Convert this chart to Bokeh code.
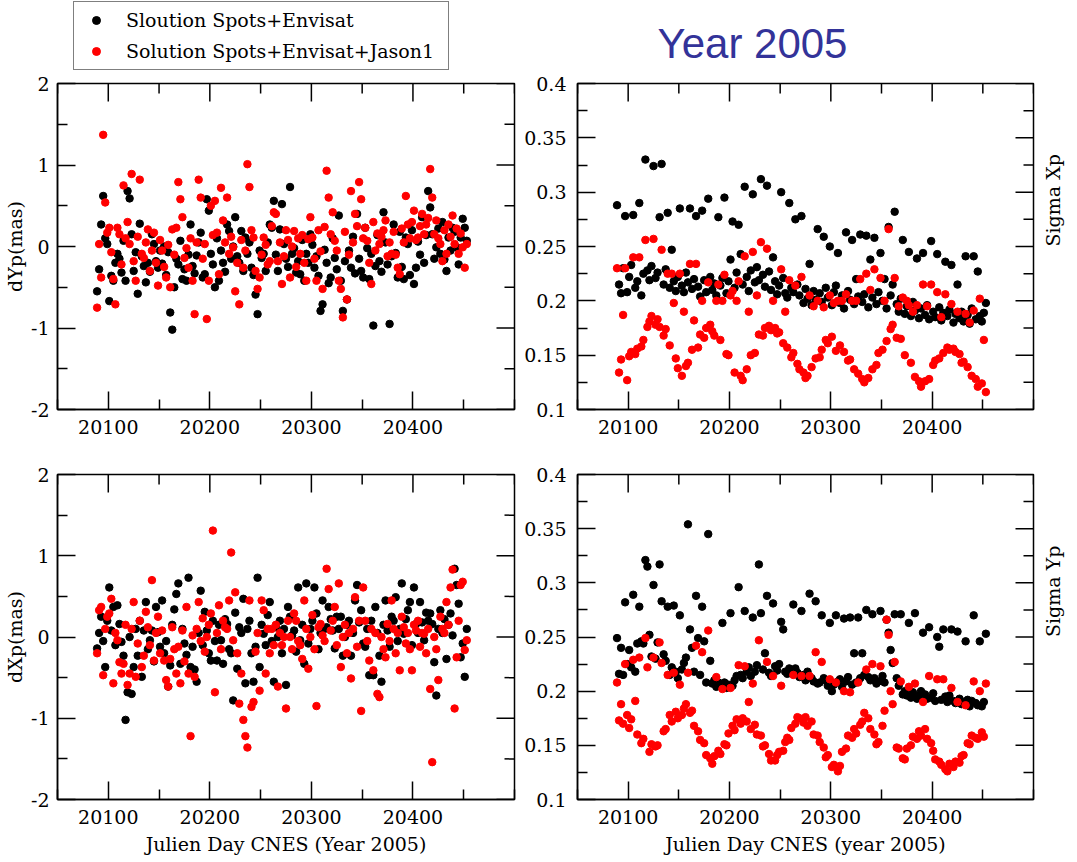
import math
from bokeh.plotting import figure
from bokeh.layouts import column, row
from bokeh.models import (Range1d, LinearAxis, FixedTicker, CustomJSTickFormatter,
                          Legend, LegendItem, ColumnDataSource, Label)
from bokeh.embed import file_html
from bokeh.resources import INLINE

# ---------------- data (CNES julian days of 2005, every second day) ----------------
days = list(range(20089, 20454, 2))

# dYp (mas)
dyp_env = [-.55, -.28, .27, .62, .10, .03, -.67, -.36, -.42, -.20,
           -.09, -.15, -.32, .07, -.42, .68, .59, .15, -.30, -.07,
           -.58, .28, -.12, -.24, -.44, -.20, -.31, .15, .03, -.18,
           -.26, -.05, -.21, .00, -.35, -.07, -.81, -1.02, -.50, -.15,
           -.22, .07, -.40, -.28, -.42, -.10, .27, -.24, -.33, -.11,
           .05, .17, -.38, -.34, .58, .44, -.09, -.22, -.50, .10,
           -.42, -.05, -.20, -.31, .27, .19, -.15, .00, .36, -.12,
           -.20, .19, -.30, .11, -.09, .05, -.26, -.35, -.59, -.83,
           -.05, -.14, -.09, -.30, .05, .27, .23, .56, -.10, -.30,
           .21, .52, .03, -.15, -.25, .73, -.09, -.02, -.32, -.18,
           -.34, .08, -.42, -.09, -.20, .15, .02, -.26, -.12, -.36,
           -.79, -.71, -.04, -.20, -.45, -.38, .10, -.14, -.28, .38,
           -.42, -.79, -.18, -.65, -.05, -.26, .12, -.33, .40, -.15,
           -.30, -.38, .23, -.02, -.40, -.09, -.97, -.24, .14, -.18,
           -.31, .42, .05, -.22, -.95, -.12, .27, -.08, -.38, .18,
           -.25, -.40, .11, .03, -.35, .20, -.46, -.26, .06, -.10,
           .36, -.20, .14, .68, .48, .15, -.15, -.01, .22, -.09,
           .30, -.16, -.30, .11, -.05, .23, .18, -.01, -.22, .11,
           .34, .23, .07]
dyp_jas = [-.75, .03, -.38, 1.37, .54, .17, .23, -.07, -.40, -.71,
           .23, .15, -.22, .75, .10, .30, .03, .89, -.18, -.42,
           .12, .82, -.09, -.14, .05, .21, -.30, -.05, .17, -.20,
           -.48, .08, -.05, -.25, -.38, .02, -.50, .21, -.10, .23,
           .79, .58, .36, -.14, -.02, -.26, .10, -.42, -.83, .05,
           .82, .60, -.15, .03, -.89, -.42, .50, .14, .56, .17,
           -.34, .72, .32, .05, .60, -.09, .12, -.01, -.55, -.20,
           -.71, .08, -.26, -.05, 1.01, .73, .20, .11, -.30, -.52,
           -.38, -.10, .11, .02, -.22, -.18, .25, .42, .40, -.18,
           .05, -.46, -.12, .20, .08, -.38, .00, .19, -.25, .10,
           -.09, .14, -.20, -.42, .09, .36, .11, -.15, -.42, .20,
           -.06, -.52, .24, .93, .60, .15, .42, .07, -.05, -.42,
           -.52, -.87, .18, -.65, -.10, .68, .05, .40, .25, .79,
           .58, .10, .23, .07, -.20, -.46, .30, -.05, .16, .03,
           .12, .20, .32, -.12, .05, -.09, .18, -.10, -.26, -.34,
           .22, .05, .62, .27, .10, .30, .44, .08, .11, .25,
           .40, .15, .27, .35, .95, .60, .15, .32, .10, .03,
           -.18, .20, -.09, .27, .12, .38, .03, .22, -.09, .16,
           -.01, -.26, .03]

# Sigma Xp
sxp_env = [.288, .215, .207, .230, .278, .208, .222, .233, .279, .212,
           .218, .290, .205, .225, .330, .228, .219, .232, .324, .221,
           .226, .277, .326, .215, .229, .281, .212, .247, .218, .209,
           .222, .285, .214, .208, .226, .217, .285, .211, .220, .278,
           .213, .204, .283, .219, .208, .294, .222, .210, .216, .205,
           .277, .214, .221, .295, .207, .218, .238, .273, .212, .226,
           .270, .243, .215, .305, .222, .209, .228, .298, .217, .231,
           .219, .312, .224, .213, .306, .227, .210, .240, .218, .206,
           .214, .300, .221, .207, .203, .290, .212, .208, .275, .215,
           .205, .278, .198, .211, .202, .234, .196, .209, .201, .266,
           .207, .199, .259, .212, .203, .250, .196, .208, .214, .244,
           .198, .205, .193, .263, .209, .201, .256, .197, .220, .204,
           .261, .199, .206, .260, .194, .238, .203, .258, .197, .208,
           .244, .200, .220, .193, .268, .205, .215, .282, .197, .190,
           .202, .256, .188, .195, .245, .186, .199, .191, .239, .184,
           .193, .244, .187, .196, .183, .255, .190, .185, .243, .194,
           .182, .189, .236, .186, .192, .233, .180, .188, .215, .184,
           .190, .181, .241, .187, .179, .193, .241, .183, .227, .186,
           .181, .189, .198]
sxp_jas = [.230, .134, .146, .187, .230, .127, .149, .153, .240, .151,
           .156, .240, .158, .164, .256, .176, .181, .186, .257, .178,
           .183, .176, .247, .168, .174, .225, .159, .225, .198, .147,
           .138, .225, .131, .190, .140, .143, .234, .155, .182, .234,
           .157, .169, .200, .166, .175, .217, .178, .172, .168, .200,
           .215, .164, .200, .224, .151, .150, .205, .209, .134, .200,
           .218, .131, .127, .241, .137, .190, .150, .245, .152, .205,
           .169, .254, .168, .175, .248, .177, .173, .200, .175, .170,
           .171, .229, .161, .190, .157, .219, .148, .152, .214, .142,
           .137, .222, .134, .129, .131, .205, .139, .195, .147, .200,
           .148, .155, .194, .164, .161, .205, .167, .198, .154, .200,
           .159, .200, .153, .206, .145, .146, .200, .137, .200, .133,
           .220, .128, .125, .225, .129, .210, .137, .229, .141, .152,
           .221, .155, .200, .163, .266, .174, .178, .221, .166, .195,
           .165, .203, .150, .200, .196, .143, .190, .130, .196, .126,
           .121, .215, .126, .195, .128, .215, .141, .145, .208, .147,
           .185, .152, .206, .157, .155, .197, .156, .153, .190, .151,
           .143, .144, .188, .139, .180, .131, .191, .128, .121, .202,
           .124, .164, .116]

# dXp (mas)
dxp_env = [-.14, .05, .25, -.05, -.37, .20, .61, .08, .37, -.10,
           .39, .16, -.06, -.23, -1.02, -.68, .00, -.70, -.37, .10,
           -.23, .20, -.49, .08, .43, -.15, -.04, .08, -.30, .37,
           .06, -.12, .45, -.20, -.05, -.61, -.35, .15, .34, .53,
           .66, -.33, .10, -.08, -.22, .73, -.37, -.12, -.40, -.55,
           .05, .57, -.10, .31, .08, -.20, -.29, .20, -.05, -.29,
           .15, -.04, -.33, .22, .16, -.15, -.20, -.78, .30, -.39,
           .12, .05, .47, -.57, .10, .20, -.20, -.55, -.12, .73,
           -.37, .15, .04, -.10, .27, .43, -.05, -.55, .12, .00,
           .20, -.20, .10, -.59, .37, .25, .02, .08, -.18, .61,
           -.04, .15, -.33, .66, -.08, .10, .20, .61, .29, -.15,
           .05, .45, .10, .12, .37, .22, .08, -.14, .25, .10,
           .25, -.23, .00, .15, .20, -.23, .05, .45, .64, .18,
           .33, -.08, -.12, .10, -.47, .20, -.47, .37, .05, -.23,
           -.55, .15, .45, .08, -.12, .25, .20, .49, -.05, .10,
           .66, .04, .22, .33, .43, -.10, .61, .16, .05, .43,
           .18, -.04, .30, .20, .29, .16, -.31, -.72, .10, .33,
           .05, .22, -.27, .15, .29, .02, .84, .64, .41, -.25,
           -.08, -.49, .10]
dxp_jas = [-.20, .33, .37, -.47, .10, .25, .29, .47, -.57, .05,
           -.04, -.31, -.45, -.33, .15, -.59, -.45, .10, .43, -.49,
           -.08, .20, -.37, -.23, .31, .12, -.10, .70, -.29, .05,
           .25, -.20, .08, -.29, -.53, -.61, -.27, .12, -.15, -.45,
           -.12, -.57, .08, -.30, .37, -.45, -1.22, .02, -.49, .10,
           .43, -.05, .23, -.18, .00, .15, .29, 1.31, -.68, .05,
           .39, -.15, .20, .12, .10, .45, 1.04, -.04, .55, -.20,
           -.82, -.45, -1.02, -1.22, -1.36, .45, -.86, -.80, -.18, .05,
           -.66, .45, .33, -.45, .10, -.20, .10, -.10, .15, -.61,
           .05, -.10, .00, -.88, .20, .00, -.15, .29, .20, -.05,
           -.10, -.27, .45, .10, -.39, .00, .27, -.15, -.85, .12,
           .16, .02, -.05, .84, .59, .08, .20, .37, -.10, .66,
           -.37, .00, .15, -.20, .05, -.51, .10, .49, -.12, .20,
           -.91, .61, .20, -.05, -.29, .10, -.41, .05, -.70, -.74,
           .00, -.15, -.25, .16, -.05, .45, .10, -.20, .05, -.41,
           .25, .12, -.08, .05, -.15, -.41, .15, .08, .20, -.12,
           .05, .04, -.20, .10, -.64, -1.54, .00, -.15, -.53, .25,
           .10, .05, .43, .15, .61, .83, -.88, -.25, .20, .64,
           .68, -.16, -.04]

# Sigma Yp
syp_env = [.249, .216, .240, .215, .282, .225, .238, .222, .289, .218,
           .244, .278, .246, .244, .321, .315, .252, .232, .298, .230,
           .245, .317, .283, .234, .228, .278, .215, .222, .279, .218,
           .212, .270, .220, .226, .231, .354, .257, .240, .218, .288,
           .249, .215, .278, .246, .208, .345, .228, .207, .210, .204,
           .208, .206, .263, .208, .203, .206, .272, .205, .210, .214,
           .296, .215, .212, .274, .218, .222, .214, .268, .218, .224,
           .317, .272, .220, .235, .288, .217, .214, .281, .223, .219,
           .225, .264, .257, .218, .216, .221, .219, .280, .221, .217,
           .213, .274, .215, .210, .218, .290, .212, .209, .283, .207,
           .208, .270, .212, .210, .205, .263, .200, .206, .270, .209,
           .211, .204, .267, .209, .213, .268, .206, .235, .208, .268,
           .212, .235, .215, .275, .213, .210, .271, .212, .207, .209,
           .274, .214, .208, .266, .254, .238, .226, .271, .212, .205,
           .271, .197, .200, .196, .263, .194, .199, .272, .193, .196,
           .200, .254, .197, .193, .259, .194, .198, .191, .250, .241,
           .192, .257, .195, .190, .196, .257, .191, .189, .255, .193,
           .188, .190, .246, .192, .186, .191, .270, .189, .187, .246,
           .186, .190, .253]
syp_jas = [.208, .173, .188, .170, .225, .178, .166, .174, .229, .191,
           .160, .231, .152, .156, .249, .222, .144, .151, .231, .149,
           .150, .245, .226, .163, .165, .215, .178, .172, .217, .181,
           .175, .206, .178, .184, .188, .217, .180, .182, .168, .242,
           .163, .155, .236, .152, .141, .256, .138, .133, .140, .213,
           .145, .142, .202, .151, .150, .161, .203, .168, .164, .174,
           .224, .170, .175, .223, .172, .190, .165, .207, .169, .160,
           .247, .159, .149, .150, .227, .142, .136, .214, .136, .141,
           .144, .205, .145, .153, .157, .155, .166, .215, .170, .176,
           .175, .214, .171, .176, .168, .214, .172, .160, .236, .159,
           .153, .227, .148, .139, .141, .211, .130, .132, .208, .126,
           .131, .144, .200, .147, .159, .199, .157, .165, .161, .208,
           .169, .172, .180, .220, .175, .165, .225, .160, .151, .153,
           .223, .168, .182, .266, .252, .200, .188, .227, .148, .147,
           .209, .138, .137, .147, .204, .150, .158, .207, .156, .163,
           .159, .190, .165, .156, .214, .152, .145, .137, .211, .135,
           .132, .211, .128, .126, .133, .203, .130, .135, .190, .134,
           .140, .141, .187, .152, .151, .159, .209, .157, .156, .200,
           .162, .158, .207]

for _a in (dyp_env, dyp_jas, sxp_env, sxp_jas, dxp_env, dxp_jas, syp_env, syp_jas):
    assert len(_a) == len(days), len(_a)

x_major = [20100, 20200, 20300, 20400]
x_minor = [20050, 20150, 20250, 20350, 20450, 20500]
mas_major = [-2, -1, 0, 1, 2]
mas_minor = [-1.5, -0.5, 0.5, 1.5]
sig_major = [0.1, 0.15, 0.2, 0.25, 0.3, 0.35, 0.4]
sig_minor = [0.125, 0.175, 0.225, 0.275, 0.325, 0.375]

label_env = "Sloution Spots+Envisat"
label_jas = "Solution Spots+Envisat+Jason1"
title_text = "Year 2005"
xlabel_left = "Julien Day CNES (Year 2005)"
xlabel_right = "Julien Day CNES (year 2005)"

FONT = "DejaVu Serif"
FS = "19px"
X0, X1 = 20050, 20500
MSIZE = 7.5


def style_axis(ax):
    ax.axis_line_color = "black"
    ax.axis_line_width = 1.5
    ax.major_tick_in = 18
    ax.major_tick_out = 0
    ax.minor_tick_in = 10
    ax.minor_tick_out = 0
    ax.major_tick_line_color = "black"
    ax.major_tick_line_width = 1.5
    ax.minor_tick_line_color = "black"
    ax.minor_tick_line_width = 1.5
    ax.major_label_text_font = FONT
    ax.major_label_text_font_size = FS
    ax.major_label_text_color = "black"
    ax.axis_label_text_font = FONT
    ax.axis_label_text_font_size = FS
    ax.axis_label_text_font_style = "normal"
    ax.axis_label_text_color = "black"


def make_panel(w, h, bl, br, bt, bb, yr, ymaj, ymin, env, jas, sig=False,
               xlabel=None, ylabel=None, rlabel=None, ystandoff=8):
    p = figure(width=w, height=h, x_range=Range1d(X0, X1), y_range=Range1d(*yr),
               output_backend="svg", toolbar_location=None, tools="",
               x_axis_location=None, y_axis_location=None,
               min_border_left=bl, min_border_right=br,
               min_border_top=bt, min_border_bottom=bb)
    p.xgrid.grid_line_color = None
    p.ygrid.grid_line_color = None
    p.outline_line_color = "black"
    p.outline_line_width = 1.5
    p.background_fill_color = "white"
    p.border_fill_color = "white"

    xt = FixedTicker(ticks=x_major, minor_ticks=x_minor)
    yt = FixedTicker(ticks=ymaj, minor_ticks=ymin)

    bottom = LinearAxis(ticker=xt)
    style_axis(bottom)
    bottom.major_label_standoff = 10
    if xlabel:
        bottom.axis_label = xlabel
        bottom.axis_label_standoff = 6
    p.add_layout(bottom, "below")

    left = LinearAxis(ticker=yt)
    style_axis(left)
    left.major_label_standoff = ystandoff
    if sig:
        left.formatter = CustomJSTickFormatter(
            code="return (Math.round(tick*1000)/1000).toString();")
    else:
        left.formatter = CustomJSTickFormatter(code="return tick.toString();")
    if ylabel:
        left.axis_label = ylabel
        left.axis_label_standoff = 2
    p.add_layout(left, "left")

    if rlabel:
        rax = LinearAxis(ticker=FixedTicker(ticks=[]), axis_label=rlabel)
        style_axis(rax)
        rax.axis_line_color = None
        rax.major_tick_line_color = None
        rax.minor_tick_line_color = None
        rax.axis_label_standoff = 19
        try:
            rax.axis_label_orientation = math.pi / 2
        except Exception:
            pass
        p.add_layout(rax, "right")

    # mirrored ticks on the top and right edges (half of each dash is clipped by the frame)
    ytop, xright = yr[1], X1
    tick_kw = dict(marker="dash", line_color="black", line_width=1.5)
    p.scatter(x=x_major, y=[ytop] * len(x_major), angle=math.pi / 2, size=36, **tick_kw)
    p.scatter(x=x_minor, y=[ytop] * len(x_minor), angle=math.pi / 2, size=20, **tick_kw)
    p.scatter(x=[xright] * len(ymaj), y=ymaj, size=36, **tick_kw)
    p.scatter(x=[xright] * len(ymin), y=ymin, size=20, **tick_kw)

    src = ColumnDataSource(dict(day=days, env=env, jas=jas))
    p.scatter("day", "env", source=src, marker="circle", size=MSIZE,
              fill_color="black", line_color="black")
    p.scatter("day", "jas", source=src, marker="circle", size=MSIZE,
              fill_color="red", line_color="red")
    return p


HH = 72            # header strip (legend + title)
H1, H2 = 380, 410  # top / bottom rows
WL, WR = 520, 557

# ---------------- header: legend box and title ----------------
hdr = figure(width=WL + WR, height=HH, x_range=Range1d(0, WL + WR), y_range=Range1d(0, HH),
             output_backend="svg", toolbar_location=None, tools="",
             x_axis_location=None, y_axis_location=None,
             min_border_left=0, min_border_right=0, min_border_top=0, min_border_bottom=0)
hdr.xgrid.grid_line_color = None
hdr.ygrid.grid_line_color = None
hdr.outline_line_color = None
hdr.background_fill_color = "white"
hdr.border_fill_color = "white"
# legend proxies: one point each, placed outside the visible header range
g_env = hdr.scatter(x=[-100], y=[-100], marker="circle", size=MSIZE,
                    fill_color="black", line_color="black")
g_jas = hdr.scatter(x=[-100], y=[-100], marker="circle", size=MSIZE,
                    fill_color="red", line_color="red")
legend = Legend(items=[LegendItem(label=label_env, renderers=[g_env]),
                       LegendItem(label=label_jas, renderers=[g_jas])],
                location=(73, 2), orientation="vertical",
                label_text_font=FONT, label_text_font_size=FS, label_text_color="black",
                glyph_width=30, glyph_height=20, label_height=20, label_width=315,
                label_standoff=15, spacing=9, padding=7, margin=0,
                border_line_color="black", border_line_width=1.5,
                background_fill_color="white", background_fill_alpha=1.0)
hdr.add_layout(legend)
hdr.add_layout(Label(x=657, y=HH - 42.5, x_units="screen", y_units="screen", text=title_text,
                     text_font="Liberation Sans", text_font_size="42px",
                     text_color="#333399", text_baseline="middle"))

# ---------------- four panels ----------------
p_tl = make_panel(WL, H1, 55, 6, 11, 43, (-2, 2), mas_major, mas_minor,
                  dyp_env, dyp_jas, ylabel="dYp(mas)", ystandoff=8)
p_tr = make_panel(WR, H1, 57, 42, 11, 43, (0.1, 0.4), sig_major, sig_minor,
                  sxp_env, sxp_jas, sig=True, rlabel="Sigma Xp", ystandoff=11)
p_bl = make_panel(WL, H2, 55, 6, 22, 63, (-2, 2), mas_major, mas_minor,
                  dxp_env, dxp_jas, xlabel=xlabel_left, ylabel="dXp(mas)", ystandoff=8)
p_br = make_panel(WR, H2, 57, 42, 22, 63, (0.1, 0.4), sig_major, sig_minor,
                  syp_env, syp_jas, sig=True, xlabel=xlabel_right, rlabel="Sigma Yp",
                  ystandoff=11)

layout = column(hdr, row(p_tl, p_tr), row(p_bl, p_br))
open("out.html", "w").write(file_html(layout, INLINE))
